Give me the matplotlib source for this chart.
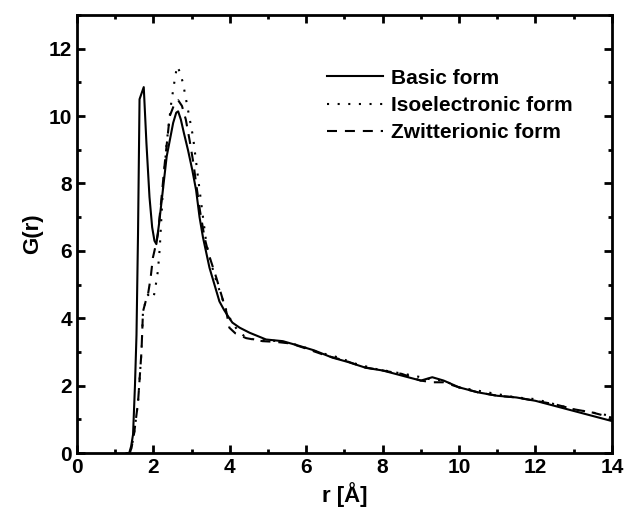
import matplotlib
matplotlib.use("Agg")
import matplotlib.pyplot as plt
from matplotlib.ticker import MultipleLocator

plt.rcParams["font.family"] = ["Liberation Sans", "DejaVu Sans"]
plt.rcParams["font.weight"] = "bold"

# Basic form
r_basic = [1.30, 1.37, 1.42, 1.47, 1.52, 1.56, 1.60, 1.64, 1.75, 1.82, 1.90, 1.97, 2.03, 2.08,
           2.15, 2.25, 2.35, 2.43, 2.52, 2.60, 2.65, 2.72, 2.80, 2.91, 3.02, 3.12, 3.21, 3.30,
           3.47, 3.60, 3.73, 3.85, 3.99, 4.07, 4.26, 4.52, 4.95, 5.39, 5.82, 6.20, 6.69,
           7.10, 7.56, 8.00, 8.50, 9.00, 9.30, 9.60, 10.00, 10.50, 11.00, 11.50, 12.00,
           12.50, 13.00, 13.50, 14.00]
g_basic = [0.0, 0.0, 0.2, 0.55, 2.0, 3.5, 6.5, 10.5, 10.86, 9.2, 7.6, 6.7, 6.3, 6.2,
           6.8, 7.8, 8.8, 9.27, 9.8, 10.1, 10.14, 9.9, 9.5, 8.98, 8.4, 7.8, 7.0, 6.4,
           5.5, 5.0, 4.5, 4.25, 4.0, 3.87, 3.72, 3.57, 3.37, 3.32, 3.18, 3.05, 2.83,
           2.7, 2.53, 2.45, 2.3, 2.15, 2.25, 2.15, 1.95, 1.8, 1.7, 1.65, 1.55,
           1.4, 1.25, 1.1, 0.95]

# Isoelectronic form
r_iso = [1.38, 1.43, 1.50, 1.60, 1.69, 1.73, 1.80, 1.86, 1.93, 2.00, 2.04, 2.12, 2.17, 2.25,
         2.35, 2.47, 2.55, 2.62, 2.70, 2.78, 2.91, 3.04, 3.17, 3.30, 3.39, 3.52, 3.65, 3.80,
         3.92, 4.05, 4.20, 4.40, 4.70, 5.00, 5.40, 5.80, 6.30, 6.80, 7.30, 7.80, 8.30,
         8.80, 9.20, 9.60, 10.00, 10.50, 11.00, 11.50, 12.00, 12.50, 13.00, 13.50, 14.00]
g_iso = [0.0, 0.15, 0.6, 1.5, 3.0, 4.2, 4.5, 4.7, 4.6, 4.6, 4.8, 5.4, 6.1, 7.8,
         9.2, 10.4, 11.0, 11.48, 11.3, 10.96, 10.17, 9.38, 8.18, 7.0, 6.2, 5.6, 5.1, 4.6,
         4.2, 3.9, 3.65, 3.45, 3.35, 3.35, 3.3, 3.2, 3.0, 2.85, 2.65, 2.5, 2.4,
         2.3, 2.2, 2.15, 1.95, 1.85, 1.75, 1.65, 1.6, 1.45, 1.3, 1.2, 1.1]

# Zwitterionic form
r_zwit = [1.38, 1.43, 1.50, 1.60, 1.69, 1.73, 1.80, 1.86, 1.93, 1.99, 2.05, 2.12, 2.20, 2.30,
          2.43, 2.55, 2.65, 2.75, 2.85, 2.95, 3.05, 3.12, 3.22, 3.34, 3.45, 3.55, 3.65, 3.78,
          3.91, 3.99, 4.15, 4.43, 4.86, 5.20, 5.60, 6.00, 6.50, 7.00, 7.50, 8.00, 8.50,
          9.00, 9.30, 9.60, 10.00, 10.50, 11.00, 11.50, 12.00, 12.50, 13.00, 13.50, 14.00]
g_zwit = [0.0, 0.15, 0.6, 1.5, 3.0, 4.2, 4.5, 4.7, 5.2, 5.8, 6.1, 6.5, 7.4, 8.6,
          10.0, 10.35, 10.47, 10.3, 9.9, 9.28, 8.6, 8.0, 7.2, 6.4, 5.9, 5.55, 5.2, 4.7,
          4.2, 3.72, 3.55, 3.41, 3.32, 3.3, 3.25, 3.1, 2.9, 2.75, 2.55, 2.45, 2.35,
          2.15, 2.1, 2.1, 1.95, 1.8, 1.7, 1.65, 1.55, 1.45, 1.3, 1.2, 1.05]

fig = plt.figure(figsize=(6.25, 5.16), dpi=100)
ax = fig.add_axes([0.123, 0.122, 0.856, 0.849])

ax.plot(r_basic, g_basic, color="black", lw=1.5, ls="-", label="Basic form")
ax.plot(r_iso, g_iso, color="black", lw=1.5, ls=(0, (1, 4.1)), label="Isoelectronic form")
ax.plot(r_zwit, g_zwit, color="black", lw=1.5, ls=(0, (4.8, 3.8)), label="Zwitterionic form")

ax.set_xlim(0, 14)
ax.set_ylim(0, 13)
ax.xaxis.set_major_locator(MultipleLocator(2))
ax.xaxis.set_minor_locator(MultipleLocator(1))
ax.yaxis.set_major_locator(MultipleLocator(2))
ax.yaxis.set_minor_locator(MultipleLocator(1))
ax.tick_params(which="both", direction="in", top=True, right=True, width=2, labelsize=15)
ax.tick_params(which="major", length=6)
ax.tick_params(which="minor", length=3)
for s in ax.spines.values():
    s.set_linewidth(2)

ax.set_xlabel("r [Å]", fontsize=16, fontweight="bold")
ax.set_ylabel("G(r)", fontsize=16, fontweight="bold")

ax.legend(loc="upper right", bbox_to_anchor=(0.962, 0.92), frameon=False, fontsize=15,
          handlelength=2.7, labelspacing=0.4, handletextpad=0.38)

fig.savefig("out.png", dpi=100)
